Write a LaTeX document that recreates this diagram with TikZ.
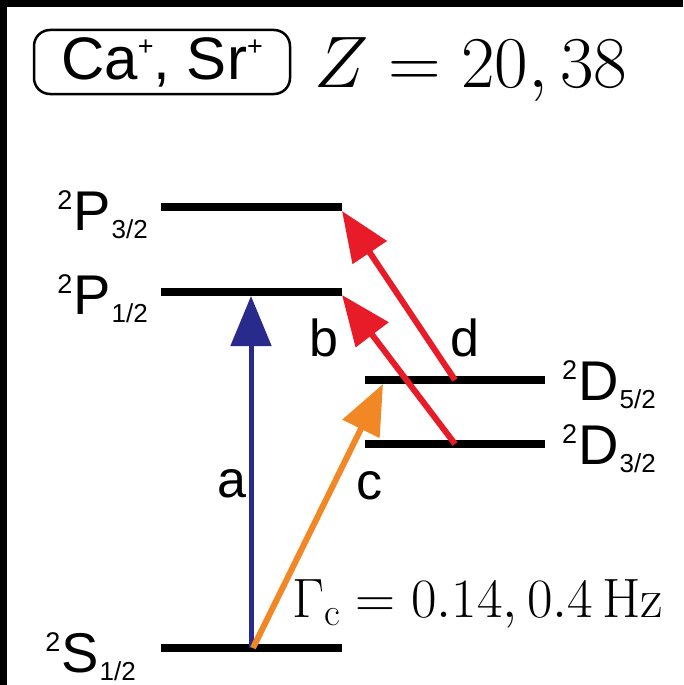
\RequirePackage{fix-cm}
\documentclass[tikz,border=0pt]{standalone}
\usepackage{fontspec}
\newfontfamily\arial{Liberation Sans}
\usetikzlibrary{arrows.meta}
\definecolor{lvlblue}{RGB}{40,42,140}
\definecolor{lvlorange}{RGB}{242,135,38}
\definecolor{lvlred}{RGB}{232,28,40}
\tikzset{
  level/.style={line width=8pt, black},
  trans/.style={line width=6pt, -{Triangle[width=40pt,length=50pt]}},
  letter/.style={font=\arial\fontsize{52}{52}\selectfont, inner sep=0pt},
  lvllabel/.style={font=\arial\fontsize{56}{56}\selectfont, inner sep=0pt},
  bigmath/.style={inner sep=0pt},
}
\newcommand\statelbl[3]{{\fontsize{27}{27}\selectfont\raisebox{21pt}{#1}}\kern1pt#2\kern1pt{\fontsize{26}{26}\selectfont\raisebox{-8pt}{#3}}}
\begin{document}
\begin{tikzpicture}[x=1pt,y=-1pt]
\useasboundingbox (0,0) rectangle (683,685);
\fill[white] (0,0) rectangle (683,685);
% black frame edges
\fill[black] (0,0) rectangle (683,7);
\fill[black] (0,0) rectangle (7,685);

% title
\node[draw, rounded corners=16pt, line width=2.5pt, minimum width=256pt, minimum height=64pt,
      inner sep=0pt, font=\arial\fontsize{60}{60}\selectfont] (ion) at (162,62)
      {Ca{\fontsize{27}{27}\selectfont\raisebox{24pt}{+}}, Sr{\fontsize{27}{27}\selectfont\raisebox{24pt}{+}}};
\node[bigmath, anchor=base west, font=\fontsize{73}{73}\selectfont] (zval) at (314,88) {$Z = 20, 38$};

% level end points
\coordinate (p3l) at (161,207); \coordinate (p3r) at (342,207);
\coordinate (p1l) at (161,292); \coordinate (p1r) at (342,292);
\coordinate (d5l) at (365,380); \coordinate (d5r) at (545,380);
\coordinate (d3l) at (365,444); \coordinate (d3r) at (545,444);
\coordinate (sl) at (161,648);  \coordinate (sr) at (342,648);

\draw[level] (p3l) -- (p3r);
\draw[level] (p1l) -- (p1r);
\draw[level] (d5l) -- (d5r);
\draw[level] (d3l) -- (d3r);
\draw[level] (sl) -- (sr);

% level labels
\node[lvllabel, anchor=base east] (lp3) at (148,230) {\statelbl{2}{P}{3/2}};
\node[lvllabel, anchor=base east] (lp1) at (148,314) {\statelbl{2}{P}{1/2}};
\node[lvllabel, anchor=base east] (ls)  at (136,672) {\statelbl{2}{S}{1/2}};
\node[lvllabel, anchor=base west] (ld5) at (562,400) {\statelbl{2}{D}{5/2}};
\node[lvllabel, anchor=base west] (ld3) at (562,464) {\statelbl{2}{D}{3/2}};

% transition end points
\coordinate (aS) at (251,648);  \coordinate (aP) at (251,296);
\coordinate (cS) at (253,648);  \coordinate (cD) at (383,384);
\coordinate (bD) at (455,444);  \coordinate (bP) at (342,295);
\coordinate (dD) at (455,380);  \coordinate (dP) at (342,211);

\draw[trans, lvlblue, line width=5pt] (aS) -- (aP);
\draw[trans, lvlorange] (cS) -- (cD);
\draw[trans, lvlred] (bD) -- (bP);
\draw[trans, lvlred] (dD) -- (dP);

% transition letters
\node[letter] (la) at (232,484) {a};
\node[letter] (lb) at (324,338) {b};
\node[letter] (lc) at (369,486) {c};
\node[letter] (ld) at (465,338) {d};

\node[bigmath, anchor=base west, font=\fontsize{55.5}{56}\selectfont] (gam) at (292,617)
  {$\Gamma_{\mathrm{c}} = 0.14, 0.4\,\mathrm{Hz}$};
\end{tikzpicture}
\end{document}
